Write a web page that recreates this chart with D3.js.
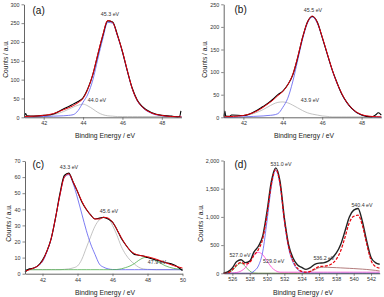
<!DOCTYPE html>
<html>
<head>
<meta charset="utf-8">
<script src="https://cdn.jsdelivr.net/npm/d3@7"></script>
<style>
  body { margin: 0; background: #fff; }
  text { font-family: "Liberation Sans", Arial, sans-serif; }
</style>
</head>
<body>
<script>
// ---- panel (a) ----
var aEnergy = [41, 41.5, 42, 42.5, 43, 43.25, 43.5, 43.75, 44, 44.25, 44.5, 44.75, 45, 45.25, 45.5, 45.75, 46, 46.25, 46.5, 46.75, 47, 47.5, 48, 48.5, 49];
var aFit    = [2, 3, 5, 10, 20, 25, 31, 39, 50, 76, 115, 168, 218, 257, 252, 217, 175, 124, 76, 45, 28, 11, 5, 2, 1];
var aPeak1  = [1, 1, 2, 3, 4, 5, 7, 18, 40, 62, 100, 155, 208, 252, 250, 215, 173, 122, 75, 44, 27, 10, 4, 2, 1];
var aPeak2  = [1, 1, 2, 7, 15, 21, 27, 32, 35, 30, 22, 13, 7, 4, 3, 2, 2, 2, 2, 2, 2, 2, 2, 2, 2];
var aDataE  = [41.02, 41.08, 41.15, 41.5, 42, 42.5, 43, 43.25, 43.5, 43.75, 44, 44.25, 44.5, 44.75, 45, 45.25, 45.5, 45.75, 46, 46.25, 46.5, 46.75, 47, 47.5, 48, 48.5, 48.8, 48.9, 48.97];
var aData   = [3, 10, 4, 3, 5, 9, 22, 28, 35, 42, 52, 77, 114, 166, 216, 256, 253, 218, 174, 123, 77, 46, 29, 12, 5, 3, 1, 2, 17];

// ---- panel (b) ----
var bEnergy = [41, 41.5, 42, 42.5, 43, 43.25, 43.5, 43.75, 44, 44.25, 44.5, 44.75, 45, 45.25, 45.5, 45.75, 46, 46.25, 46.5, 46.75, 47, 47.25, 47.5, 48, 48.5, 49];
var bFit    = [1, 2, 4, 10, 22, 30, 38, 48, 57, 72, 94, 132, 176, 210, 224, 210, 178, 142, 106, 76, 52, 33, 20, 6, 2, 1];
var bPeak1  = [0, 0, 1, 2, 3, 4, 5, 8, 22, 42, 78, 125, 172, 208, 222, 208, 177, 141, 105, 75, 51, 32, 19, 5, 1, 0];
var bPeak2  = [0, 1, 3, 8, 17, 23, 29, 33, 34, 32, 27, 21, 15, 10, 7, 5, 3, 2, 1, 1, 1, 1, 1, 1, 1, 1];
var bDataE  = [41.02, 41.06, 41.1, 41.3, 41.4, 42, 42.5, 43, 43.25, 43.5, 43.75, 44, 44.25, 44.5, 44.75, 45, 45.25, 45.5, 45.75, 46, 46.25, 46.5, 46.75, 47, 47.25, 47.5, 48, 48.5, 48.7, 48.85, 49];
var bData   = [2, 14, 3, 2, 5, 4, 11, 24, 31, 40, 50, 58, 72, 93, 131, 176, 211, 223, 211, 177, 141, 106, 77, 51, 33, 20, 5, 1, 5, 10, 5];

// ---- panel (c) ----
var cEnergy = [41, 41.25, 41.5, 41.75, 42, 42.25, 42.5, 42.75, 43, 43.25, 43.5, 43.75, 44, 44.25, 44.5, 44.75, 45, 45.25, 45.5, 45.75, 46, 46.25, 46.5, 46.75, 47, 47.25, 47.5, 47.75, 48, 48.5, 49, 49.5, 50];
var cFit    = [1.5, 2.5, 3.5, 5, 8, 14, 22, 35, 49, 60, 62, 57, 51, 45, 40, 36.5, 34, 34, 35, 34.5, 32, 27.5, 22.5, 18, 14.5, 12.5, 11.5, 11, 10.5, 9, 7, 5, 3.5];
var cPeak1  = [2.5, 2.7, 3.5, 5, 7.5, 13.5, 22, 35, 49, 60, 61.5, 56, 47, 37, 27, 18.5, 12, 6, 4, 3, 2.6, 2.5, 2.5, 2.5, 2.5, 2.5, 2.5, 2.5, 2.5, 2.5, 2.5, 2.5, 2.5];
var cPeak2  = [2.5, 2.5, 2.5, 2.5, 2.5, 2.5, 2.5, 2.5, 2.5, 2.7, 3, 3.6, 4.8, 9, 16, 23, 29.5, 33.5, 35, 34.5, 30, 24, 17, 12, 8.5, 6, 4, 3, 2.7, 2.5, 2.5, 2.5, 2.5];
var cPeak3  = [2.5, 2.5, 2.5, 2.5, 2.5, 2.5, 2.5, 2.5, 2.5, 2.5, 2.5, 2.5, 2.5, 2.5, 2.5, 2.5, 2.5, 2.5, 2.5, 2.5, 2.5, 2.6, 3, 3.8, 4.8, 6.3, 8.3, 9.8, 10.3, 8, 5, 3.3, 2.7];
var cData   = [1, 3, 3.5, 5, 8.5, 14, 22, 35, 50, 61, 62.5, 57, 51, 44.5, 40, 36.5, 34, 34.5, 35, 34, 32, 27.5, 22, 18, 14.5, 12, 11.5, 11, 10, 8.5, 7, 5.5, 2];

// ---- panel (d) ----
var dEnergy = [525, 525.5, 526, 526.5, 527, 527.5, 528, 528.5, 529, 529.5, 530, 530.5, 531, 531.5, 532, 532.5, 533, 533.5, 534, 534.5, 535, 535.5, 536, 536.5, 537, 537.5, 538, 538.5, 539, 539.5, 540, 540.5, 541, 541.5, 542, 542.5, 543];
var dData   = [5, 30, 94, 210, 240, 190, 215, 380, 480, 660, 1100, 1630, 1870, 1630, 980, 500, 270, 150, 105, 70, 100, 160, 180, 185, 210, 270, 360, 510, 750, 1000, 1120, 1150, 920, 570, 280, 190, 160];
var dFit    = [0, 10, 60, 150, 195, 160, 190, 320, 420, 610, 1040, 1580, 1840, 1590, 940, 470, 220, 90, 35, 20, 35, 80, 120, 125, 135, 170, 250, 400, 640, 900, 1010, 1030, 850, 520, 230, 120, 90];
var dPeak1  = [0, 0, 0, 0, 0, 0, 0, 40, 130, 380, 930, 1540, 1830, 1570, 920, 440, 190, 70, 25, 8, 0, 0, 0, 0, 0, 0, 0, 0, 0, 0, 0, 0, 0, 0, 0, 0, 0];
var dPeak2  = [0, 0, 5, 15, 40, 100, 210, 330, 370, 330, 220, 110, 45, 20, 20, 20, 20, 20, 20, 20, 20, 20, 20, 20, 20, 20, 20, 20, 20, 20, 20, 20, 20, 20, 20, 20, 20];
var dPeak3  = [0, 10, 50, 130, 180, 120, 40, 5, 0, 0, 0, 0, 0, 0, 0, 0, 0, 0, 0, 0, 0, 0, 0, 0, 0, 0, 0, 0, 0, 0, 0, 0, 0, 0, 0, 0, 0];
var dStep   = [0, 0, 0, 0, 0, 0, 0, 0, 0, 0, 0, 0, 0, 0, 0, 0, 0, 0, 0, 10, 30, 65, 100, 108, 106, 103, 100, 96, 92, 88, 84, 79, 74, 68, 60, 52, 40];

var svg = d3.select("body").append("svg").attr("width", 384).attr("height", 297);

var panels = [
  { tag: "(a)", xd: [41, 49], xr: [24, 181.5], yd: [0, 300], yr: [117.3, 4.3], xt: [42, 44, 46, 48], yt: d3.range(0, 301, 50),
    tagPos: [32.5, 10.5], ytitle: [5, 59], xtitle: [105, 135],
    series: [
      { x: aEnergy, y: aPeak2, c: "#b4b4b4", w: 0.8 },
      { x: aEnergy, y: aPeak1, c: "#5b5bf0", w: 0.8 },
      { x: aDataE, y: aData, c: "#000", w: 1.1 },
      { x: aEnergy, y: aFit, c: "#e8000b", w: 1 }],
    labels: [["45.3 eV", 110, 14], ["44.0 eV", 97, 99.5]] },
  { tag: "(b)", xd: [41, 49], xr: [223.7, 381.3], yd: [0, 250], yr: [117.3, 4.3], xt: [42, 44, 46, 48], yt: d3.range(0, 251, 50),
    tagPos: [234.5, 9.5], ytitle: [204, 59], xtitle: [304, 135],
    series: [
      { x: bEnergy, y: bPeak2, c: "#b4b4b4", w: 0.8 },
      { x: bEnergy, y: bPeak1, c: "#5b5bf0", w: 0.8 },
      { x: bDataE, y: bData, c: "#000", w: 1.1 },
      { x: bEnergy, y: bFit, c: "#e8000b", w: 1 }],
    labels: [["45.5 eV", 313, 10], ["43.9 eV", 310, 100]] },
  { tag: "(c)", xd: [41, 50], xr: [25, 182.5], yd: [0, 70], yr: [273.7, 161], xt: [42, 44, 46, 48, 50], yt: d3.range(0, 71, 10),
    tagPos: [32.5, 164], ytitle: [8, 223], xtitle: [105, 292],
    series: [
      { x: cEnergy, y: cPeak2, c: "#b4b4b4", w: 0.8 },
      { x: cEnergy, y: cPeak1, c: "#5b5bf0", w: 0.8 },
      { x: cEnergy, y: cPeak3, c: "#4fae4f", w: 0.8 },
      { x: cEnergy, y: cData, c: "#000", w: 1.1 },
      { x: cEnergy, y: cFit, c: "#e8000b", w: 1 }],
    labels: [["43.3 eV", 69, 167], ["45.6 eV", 109, 211.3], ["47.9 eV", 157, 262.3]] },
  { tag: "(d)", xd: [525, 543], xr: [223.7, 379.7], yd: [0, 2000], yr: [273.3, 160.5], xt: d3.range(526, 543, 2), yt: d3.range(0, 2001, 500),
    tagPos: [234.5, 164], ytitle: [200, 223], xtitle: [303, 292],
    series: [
      { x: dEnergy, y: dStep, c: "#a05a5a", w: 0.8 },
      { x: dEnergy, y: dPeak3, c: "#4fae4f", w: 0.8 },
      { x: dEnergy, y: dPeak2, c: "#ff40d0", w: 0.8 },
      { x: dEnergy, y: dPeak1, c: "#5b5bf0", w: 0.8 },
      { x: dEnergy, y: dData, c: "#222", w: 1.4 },
      { x: dEnergy, y: dFit, c: "#e8000b", w: 1.2, dash: "3,1.5" }],
    labels: [["531.0 eV", 281, 163.7], ["540.4 eV", 362, 204.7], ["527.0 eV", 240, 255.3], ["529.0 eV", 273.7, 260.7], ["536.2 eV", 324, 258]] }
];

panels.forEach(function(p) {
  var x = d3.scaleLinear().domain(p.xd).range(p.xr);
  var y = d3.scaleLinear().domain(p.yd).range(p.yr);
  var g = svg.append("g");

  var line = d3.line()
    .x(function(d) { return x(d[0]); })
    .y(function(d) { return y(d[1]); })
    .curve(d3.curveMonotoneX);

  p.series.forEach(function(s) {
    g.append("path")
      .datum(s.x.map(function(e, i) { return [e, s.y[i]]; }))
      .attr("d", line)
      .attr("fill", "none")
      .attr("stroke", s.c)
      .attr("stroke-width", s.w)
      .attr("stroke-dasharray", s.dash || null);
  });

  var xa = g.append("g").attr("transform", "translate(0," + p.yr[0] + ")")
    .call(d3.axisBottom(x).tickValues(p.xt).tickSize(2.5).tickSizeOuter(0).tickPadding(1.5));
  var ya = g.append("g").attr("transform", "translate(" + p.xr[0] + ",0)")
    .call(d3.axisLeft(y).tickValues(p.yt).tickSize(2.5).tickSizeOuter(0).tickPadding(2));
  [xa, ya].forEach(function(a) {
    a.select(".domain").attr("stroke", "#555").attr("stroke-width", 0.9);
    a.selectAll(".tick line").attr("stroke", "#555").attr("stroke-width", 0.7);
    a.selectAll(".tick text").attr("fill", "#333").style("font-size", "5.4px")
      .style("font-family", "Liberation Sans, Arial, sans-serif");
  });

  g.append("text").attr("x", p.tagPos[0]).attr("y", p.tagPos[1])
    .attr("dominant-baseline", "central").style("font-size", "10px").attr("fill", "#111").text(p.tag);

  g.append("text").attr("x", p.xtitle[0]).attr("y", p.xtitle[1])
    .attr("text-anchor", "middle").attr("dominant-baseline", "central")
    .style("font-size", "6.8px").attr("fill", "#222").text("Binding Energy / eV");

  g.append("text")
    .attr("transform", "translate(" + p.ytitle[0] + "," + p.ytitle[1] + ") rotate(-90)")
    .attr("text-anchor", "middle").attr("dominant-baseline", "central")
    .style("font-size", "6.6px").attr("fill", "#222").text("Counts / a.u.");

  p.labels.forEach(function(l) {
    g.append("text").attr("x", l[1]).attr("y", l[2])
      .attr("text-anchor", "middle").attr("dominant-baseline", "central")
      .style("font-size", "5.3px").attr("fill", "#333").text(l[0]);
  });
});
</script>
</body>
</html>
